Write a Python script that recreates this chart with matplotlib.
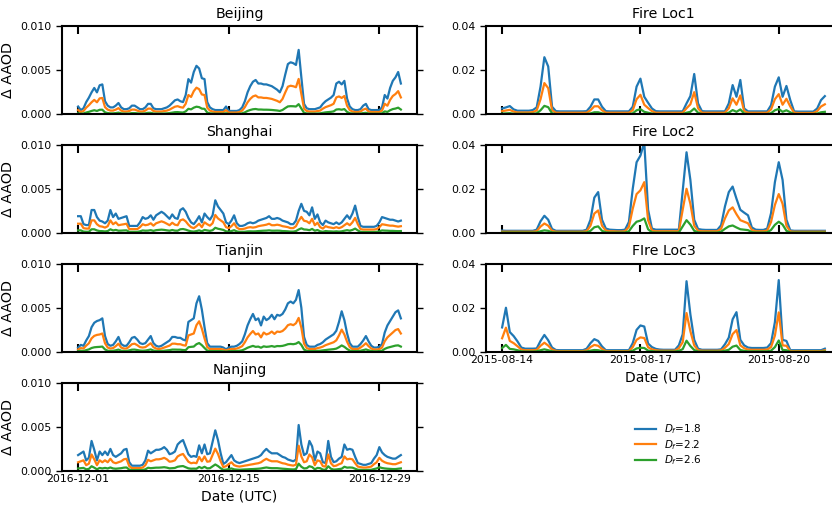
import matplotlib
matplotlib.use("Agg")
import matplotlib.pyplot as plt
import matplotlib.dates as mdates
import numpy as np
import pandas as pd

city_names = ["Beijing", "Shanghai", "Tianjin", "Nanjing"]
fire_names = ["Fire Loc1", "Fire Loc2", "FIre Loc3"]
df_labels = [r"$D_f$=1.8", r"$D_f$=2.2", r"$D_f$=2.6"]
colors = ["#1f77b4", "#ff7f0e", "#2ca02c"]

# 6-hourly samples, Dec 2016
city_time = pd.date_range("2016-12-01", periods=121, freq="6h")
# 2-hourly samples, Aug 2015
fire_time = pd.date_range("2015-08-14", periods=85, freq="2h")

city_ticks = pd.to_datetime(["2016-12-01", "2016-12-15", "2016-12-29"])
fire_ticks = pd.to_datetime(["2015-08-14", "2015-08-17", "2015-08-20"])

# ---- city delta AAOD, units of 1e-5 ----
beijing_18 = [90,50,70,140,190,250,300,250,330,340,
              150,100,80,80,100,130,80,60,60,70,
              100,100,80,60,60,80,120,120,70,60,
              60,60,70,80,100,130,160,170,150,140,
              220,400,360,480,550,520,410,400,140,80,
              60,50,50,50,50,90,40,40,40,40,
              50,80,150,250,320,370,390,350,350,340,
              340,330,320,300,280,250,320,450,570,590,
              580,560,730,420,120,70,60,60,60,70,
              80,120,150,170,190,220,350,370,340,380,
              180,90,60,50,50,60,100,120,60,50,
              50,50,50,80,220,180,300,380,420,480,
              350]
beijing_22 = [50,28,39,77,105,138,165,138,182,187,
              83,55,44,44,55,72,44,33,33,39,
              55,55,44,33,33,44,66,66,39,33,
              33,33,39,44,55,72,88,94,83,77,
              121,220,198,264,303,286,226,220,77,44,
              33,28,28,28,28,50,22,22,22,22,
              28,44,83,138,176,204,215,193,193,187,
              187,182,176,165,154,138,176,248,314,325,
              319,308,402,231,66,39,33,33,33,39,
              44,66,83,94,105,121,193,204,187,209,
              99,50,33,28,28,33,55,66,33,28,
              28,28,28,44,121,99,165,209,231,264,
              193]
beijing_26 = [14,8,11,22,30,40,48,40,53,54,
              24,16,13,13,16,21,13,10,10,11,
              16,16,13,10,10,13,19,19,11,10,
              10,10,11,13,16,21,26,27,24,22,
              35,64,58,77,88,83,66,64,22,13,
              10,8,8,8,8,14,6,6,6,6,
              8,13,24,40,51,59,62,56,56,54,
              54,53,51,48,45,40,51,72,91,94,
              93,90,117,67,19,11,10,10,10,11,
              13,19,24,27,30,35,56,59,54,61,
              29,14,10,8,8,10,16,19,10,8,
              8,8,8,13,35,29,48,61,67,77,
              56]

shanghai_18 = [190,190,100,90,90,260,260,180,140,130,
               110,140,260,180,220,160,170,180,190,80,
               80,80,80,120,180,160,170,200,150,200,
               220,240,220,190,160,210,170,160,260,280,
               240,170,120,100,140,190,120,220,180,150,
               200,370,300,260,220,120,100,140,200,110,
               80,80,90,110,120,110,120,140,150,160,
               170,190,160,160,170,160,140,130,120,100,
               100,140,250,330,250,240,200,290,160,210,
               120,90,140,120,110,100,120,100,120,160,
               200,160,220,310,180,80,70,70,70,70,
               70,80,120,180,170,160,150,150,140,130,
               140]
shanghai_22 = [105,105,55,50,50,143,143,99,77,72,
               61,77,143,99,121,88,94,99,105,44,
               44,44,44,66,99,88,94,110,83,110,
               121,132,121,105,88,116,94,88,143,154,
               132,94,66,55,77,105,66,121,99,83,
               110,204,165,143,121,66,55,77,110,61,
               44,44,50,61,66,61,66,77,83,88,
               94,105,88,88,94,88,77,72,66,55,
               55,77,138,182,138,132,110,160,88,116,
               66,50,77,66,61,55,66,55,66,88,
               110,88,121,171,99,44,39,39,39,39,
               39,44,66,99,94,88,83,83,77,72,
               77]
shanghai_26 = [30,30,16,14,14,42,42,29,22,21,
               18,22,42,29,35,26,27,29,30,13,
               13,13,13,19,29,26,27,32,24,32,
               35,38,35,30,26,34,27,26,42,45,
               38,27,19,16,22,30,19,35,29,24,
               32,59,48,42,35,19,16,22,32,18,
               13,13,14,18,19,18,19,22,24,26,
               27,30,26,26,27,26,22,21,19,16,
               16,22,40,53,40,38,32,46,26,34,
               19,14,22,19,18,16,19,16,19,26,
               32,26,35,50,29,13,11,11,11,11,
               11,13,19,29,27,26,24,24,22,21,
               22]

tianjin_18 = [50,80,70,130,180,280,330,350,360,380,
              180,90,70,80,120,170,90,70,70,110,
              160,170,140,100,90,100,140,180,100,70,
              60,70,90,110,130,170,170,160,160,140,
              130,340,360,380,550,630,480,280,100,60,
              60,60,60,60,50,30,50,60,60,70,
              90,120,200,300,370,430,360,380,300,400,
              360,380,420,370,420,410,430,480,550,570,
              550,590,700,500,170,80,60,60,60,80,
              90,110,140,160,180,200,240,340,460,360,
              210,100,60,60,60,90,130,180,120,70,
              50,50,60,90,220,300,350,400,450,470,
              380]
tianjin_22 = [28,44,39,72,99,154,182,193,198,209,
              99,50,39,44,66,94,50,39,39,61,
              88,94,77,55,50,55,77,99,55,39,
              33,39,50,61,72,94,94,88,88,77,
              72,187,198,209,303,347,264,154,55,33,
              33,33,33,33,28,17,28,33,33,39,
              50,66,110,165,204,237,198,209,165,220,
              198,209,231,204,231,226,237,264,303,314,
              303,325,385,275,94,44,33,33,33,44,
              50,61,77,88,99,110,132,187,253,198,
              116,55,33,33,33,50,72,99,66,39,
              28,28,33,50,121,165,193,220,248,259,
              209]
tianjin_26 = [8,13,11,21,29,45,53,56,58,61,
              29,14,11,13,19,27,14,11,11,18,
              26,27,22,16,14,16,22,29,16,11,
              10,11,14,18,21,27,27,26,26,22,
              21,54,58,61,88,101,77,45,16,10,
              10,10,10,10,8,5,8,10,10,11,
              14,19,32,48,59,69,58,61,48,64,
              58,61,67,59,67,66,69,77,88,91,
              88,94,112,80,27,13,10,10,10,13,
              14,18,22,26,29,32,38,54,74,58,
              34,16,10,10,10,14,21,29,19,11,
              8,8,10,14,35,48,56,64,72,75,
              61]

nanjing_18 = [180,200,220,120,150,340,240,120,220,180,
              220,180,250,180,160,180,200,240,250,100,
              60,60,60,60,70,120,230,200,220,240,
              240,250,270,240,190,200,220,300,330,350,
              270,190,160,170,160,290,200,300,190,200,
              330,460,350,200,80,100,140,180,120,100,
              90,100,110,120,130,140,150,160,180,220,
              250,220,200,200,200,180,160,150,130,120,
              110,130,520,300,180,200,340,280,120,220,
              200,100,90,340,160,100,110,140,160,300,
              240,250,240,160,90,80,70,70,80,90,
              140,180,270,210,180,160,150,140,140,160,
              180]
nanjing_22 = [99,110,121,66,83,187,132,66,121,99,
              121,99,138,99,88,99,110,132,138,55,
              33,33,33,33,39,66,127,110,121,132,
              132,138,149,132,105,110,121,165,182,193,
              149,105,88,94,88,160,110,165,105,110,
              182,253,193,110,44,55,77,99,66,55,
              50,55,61,66,72,77,83,88,99,121,
              138,121,110,110,110,99,88,83,72,66,
              61,72,286,165,99,110,187,154,66,121,
              110,55,50,187,88,55,61,77,88,165,
              132,138,132,88,50,44,39,39,44,50,
              77,99,149,116,99,88,83,77,77,88,
              99]
nanjing_26 = [29,32,35,19,24,54,38,19,35,29,
              35,29,40,29,26,29,32,38,40,16,
              10,10,10,10,11,19,37,32,35,38,
              38,40,43,38,30,32,35,48,53,56,
              43,30,26,27,26,46,32,48,30,32,
              53,74,56,32,13,16,22,29,19,16,
              14,16,18,19,21,22,24,26,29,35,
              40,35,32,32,32,29,26,24,21,19,
              18,21,83,48,29,32,54,45,19,35,
              32,16,14,54,26,16,18,22,26,48,
              38,40,38,26,14,13,11,11,13,14,
              22,29,43,34,29,26,24,22,22,26,
              29]

# ---- fire locations delta AAOD, units of 1e-4 ----
fire1_18 = [27,32,38,23,17,17,17,17,20,32,
            126,259,217,35,15,14,14,14,14,14,
            14,14,15,35,68,68,35,15,14,14,
            14,14,14,14,35,126,162,80,53,27,
            15,14,14,14,14,14,14,14,50,83,
            183,50,15,14,14,14,14,14,14,50,
            133,80,156,27,14,14,14,14,14,14,
            42,126,168,80,129,65,14,13,13,13,
            13,13,27,65,83]
fire1_22 = [15,18,21,13,9,9,9,9,11,18,
            69,142,119,19,8,8,8,8,8,8,
            8,8,8,19,37,37,19,8,8,8,
            8,8,8,8,19,69,89,44,29,15,
            8,8,8,8,8,8,8,8,28,46,
            101,28,8,8,8,8,8,8,8,28,
            73,44,86,15,8,8,8,8,8,8,
            23,69,92,44,71,36,8,7,7,7,
            7,7,15,36,46]
fire1_26 = [4,5,6,3,3,3,3,3,3,5,
            19,39,33,5,2,2,2,2,2,2,
            2,2,2,5,10,10,5,2,2,2,
            2,2,2,2,5,19,24,12,8,4,
            2,2,2,2,2,2,2,2,8,12,
            27,8,2,2,2,2,2,2,2,8,
            20,12,23,4,2,2,2,2,2,2,
            6,19,25,12,19,10,2,2,2,2,
            2,2,4,10,12]

fire2_18 = [11,10,10,10,10,10,10,10,10,15,
            53,78,60,18,10,10,10,10,10,10,
            10,10,15,60,160,185,60,20,15,14,
            13,13,15,50,200,320,350,410,105,20,
            15,15,15,15,15,15,15,190,365,240,
            60,18,15,14,14,14,14,35,120,185,
            210,155,105,92,80,25,15,14,14,20,
            90,230,320,240,60,12,10,10,10,10,
            10,10,10,10,10]
fire2_22 = [6,6,6,6,6,6,6,6,6,8,
            29,43,33,10,6,6,6,6,6,6,
            6,6,8,33,88,102,33,11,8,8,
            7,7,8,28,110,176,193,230,58,11,
            8,8,8,8,8,8,8,105,200,132,
            33,10,8,8,8,8,8,19,66,102,
            116,85,58,51,44,14,8,8,8,11,
            50,127,176,132,33,7,6,6,6,6,
            6,6,6,6,6]
fire2_26 = [2,2,2,2,2,2,2,2,2,2,
            8,12,10,3,2,2,2,2,2,2,
            2,2,2,10,26,30,10,3,2,2,
            2,2,2,8,32,51,56,66,17,3,
            2,2,2,2,2,2,2,30,58,38,
            10,3,2,2,2,2,2,6,19,30,
            34,25,17,15,13,4,2,2,2,3,
            14,37,51,38,10,2,2,2,2,2,
            2,2,2,2,2]

fire3_18 = [111,200,90,72,48,20,15,15,15,16,
            50,77,53,20,9,8,8,8,8,8,
            8,8,15,40,58,50,25,8,8,8,
            8,8,8,8,40,100,120,115,38,22,
            14,11,10,10,10,10,30,80,320,170,
            55,15,10,10,10,10,10,12,35,65,
            148,180,55,30,20,18,18,18,18,20,
            40,135,325,55,50,8,8,8,8,8,
            8,8,8,8,15]
fire3_22 = [62,110,50,40,26,11,8,8,8,9,
            28,42,29,11,5,4,4,4,4,4,
            4,4,8,22,32,28,14,4,4,4,
            4,4,4,4,22,55,66,63,21,12,
            8,6,6,6,6,6,17,44,176,94,
            30,8,6,6,6,6,6,7,19,36,
            81,99,30,17,11,10,10,10,10,11,
            22,74,179,30,28,4,4,4,4,4,
            4,4,4,4,8]
fire3_26 = [18,32,14,12,8,3,2,2,2,3,
            8,12,8,3,1,1,1,1,1,1,
            1,1,2,6,9,8,4,1,1,1,
            1,1,1,1,6,16,19,18,6,4,
            2,2,2,2,2,2,5,13,51,27,
            9,2,2,2,2,2,2,2,6,10,
            24,29,9,5,3,3,3,3,3,3,
            6,22,52,9,8,1,1,1,1,1,
            1,1,1,1,2]

city_series = {
    "Beijing": (beijing_18, beijing_22, beijing_26),
    "Shanghai": (shanghai_18, shanghai_22, shanghai_26),
    "Tianjin": (tianjin_18, tianjin_22, tianjin_26),
    "Nanjing": (nanjing_18, nanjing_22, nanjing_26),
}
fire_series = {
    "Fire Loc1": (fire1_18, fire1_22, fire1_26),
    "Fire Loc2": (fire2_18, fire2_22, fire2_26),
    "FIre Loc3": (fire3_18, fire3_22, fire3_26),
}


def style_axis(ax, ymax, ticks, show_x):
    ax.set_ylim(0, ymax)
    ax.set_yticks([0, ymax / 2, ymax])
    ax.set_xticks(ticks)
    ax.xaxis.set_major_formatter(mdates.DateFormatter("%Y-%m-%d"))
    ax.tick_params(axis="x", direction="in", top=True, bottom=True,
                   length=6, width=1.5, labelsize=7.8, labelbottom=show_x, pad=2)
    ax.tick_params(axis="y", direction="out", left=True, right=True,
                   length=4, width=1, labelsize=7.8)
    for sp in ax.spines.values():
        sp.set_linewidth(1.5)


fig = plt.figure(figsize=(8.32, 5.05), dpi=100)
left_x, right_x = 0.0745, 0.5841
w, h = 0.4267, 0.1752
bottoms = [0.7733, 0.5386, 0.3030, 0.0673]

handles = []
for k, name in enumerate(city_names):
    ax = fig.add_axes([left_x, bottoms[k], w, h])
    for vals, c, lab in zip(city_series[name], colors, df_labels):
        ln, = ax.plot(city_time, np.array(vals) * 1e-5, color=c, lw=1.6, label=lab)
        if k == 0:
            handles.append(ln)
    last = k == len(city_names) - 1
    style_axis(ax, 0.01, city_ticks, last)
    ax.set_title(name, fontsize=10.2)
    ax.set_ylabel("Δ AAOD", fontsize=10.3)
    if last:
        ax.set_xlabel("Date (UTC)", fontsize=10)

for k, name in enumerate(fire_names):
    ax = fig.add_axes([right_x, bottoms[k], w, h])
    for vals, c in zip(fire_series[name], colors):
        ax.plot(fire_time, np.array(vals) * 1e-4, color=c, lw=1.6)
    last = k == len(fire_names) - 1
    style_axis(ax, 0.04, fire_ticks, last)
    ax.set_title(name, fontsize=10.2)
    if last:
        ax.set_xlabel("Date (UTC)", fontsize=10)

fig.legend(handles, df_labels, loc="center", bbox_to_anchor=(0.803, 0.119),
           frameon=False, fontsize=7.5, labelspacing=0.16)

fig.savefig("out.png", dpi=100)
